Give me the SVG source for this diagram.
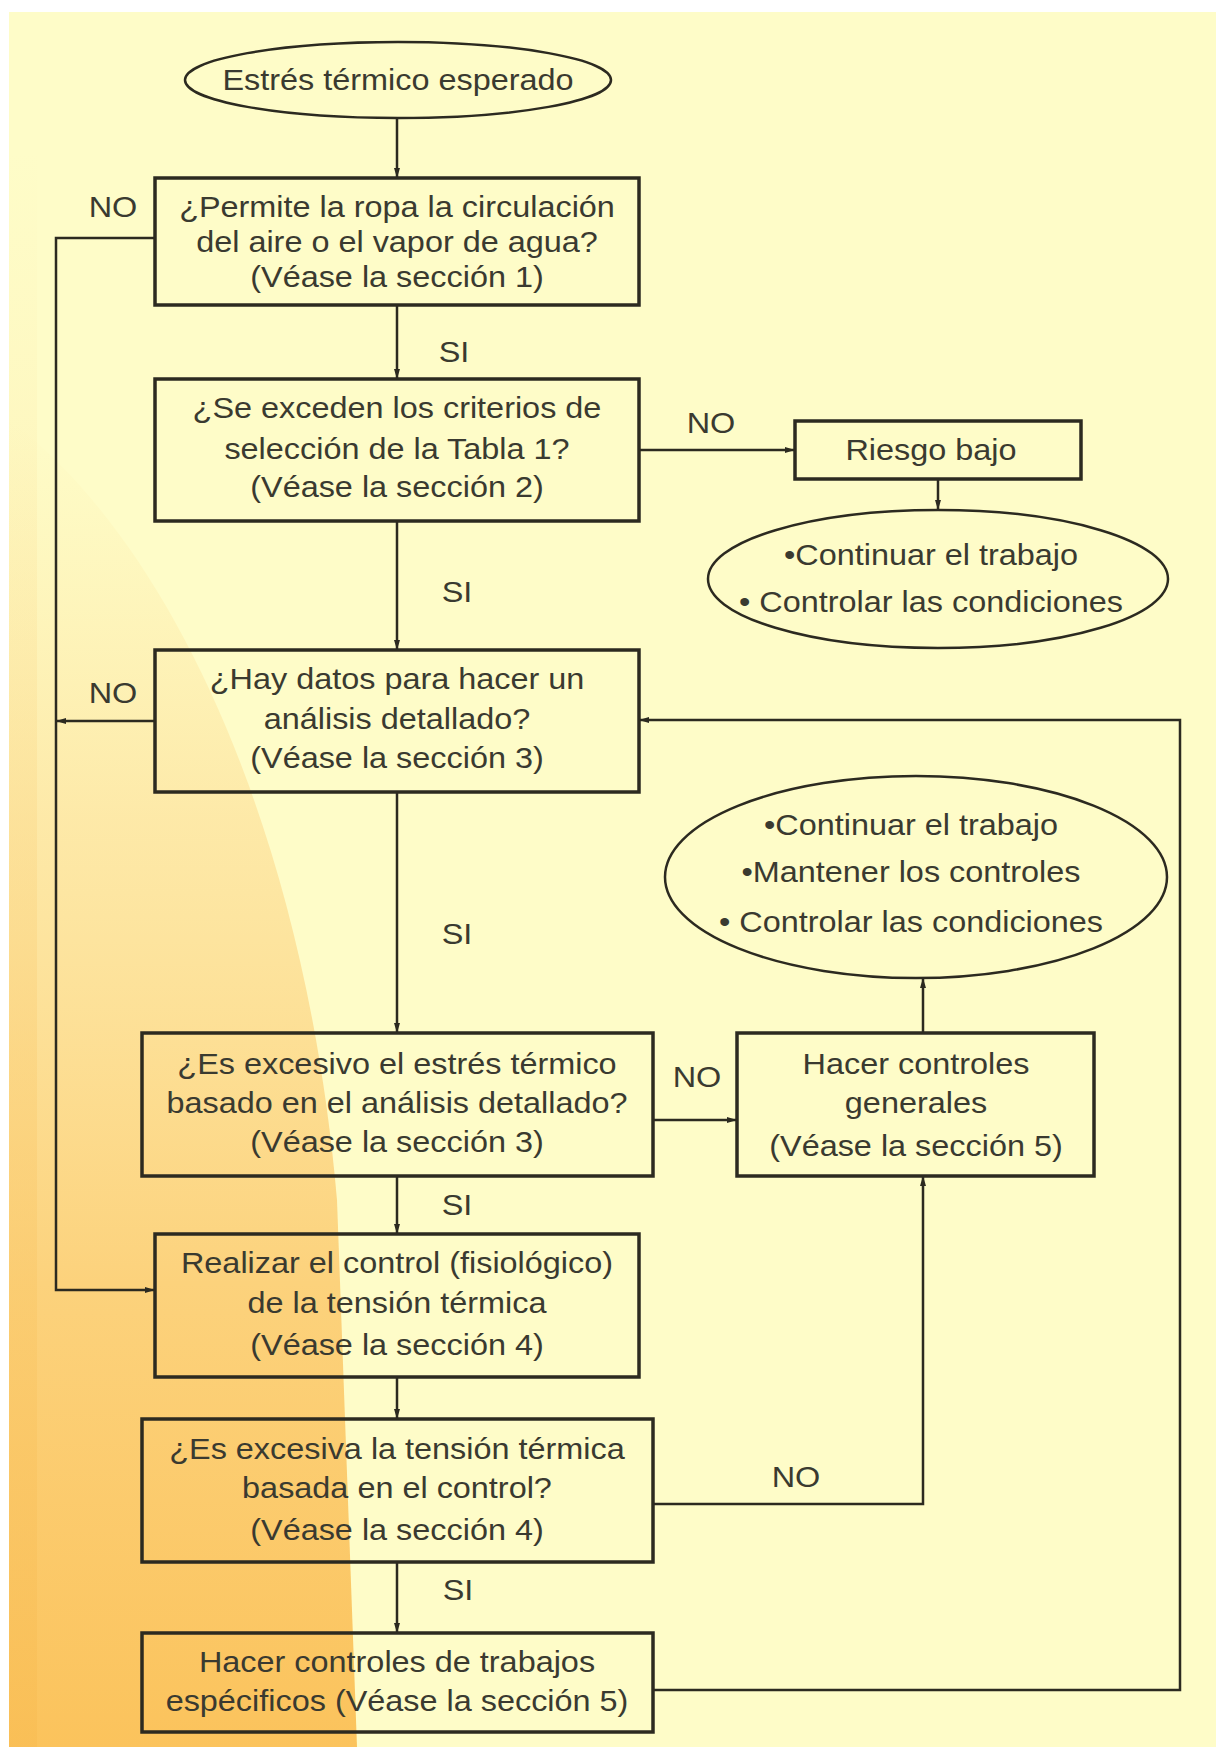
<svg xmlns="http://www.w3.org/2000/svg" width="1216" height="1747" viewBox="0 0 1216 1747">
  <style>
    .t { font-family: "Liberation Sans", Arial, sans-serif; font-size: 30px; fill: #3a3a30; text-anchor: middle; }
    .box { fill: none; stroke: #2c2a20; stroke-width: 3.5; }
    .ell { fill: none; stroke: #2c2a20; stroke-width: 2.5; }
    .c { fill: none; stroke: #2c2a20; stroke-width: 2.5; }
  </style>
  <defs>
    <marker id="ah" markerUnits="userSpaceOnUse" markerWidth="12" markerHeight="10" refX="10" refY="4" orient="auto">
      <path d="M0,1 L10,4 L0,7 Z" fill="#2c2a20"/>
    </marker>
    <linearGradient id="og" gradientUnits="userSpaceOnUse" x1="0" y1="420" x2="0" y2="1747">
      <stop offset="0" stop-color="#FDEBA8" stop-opacity="0"/>
      <stop offset="0.3" stop-color="#FDE19A" stop-opacity="0.7"/>
      <stop offset="0.65" stop-color="#FCD27C" stop-opacity="1"/>
      <stop offset="1" stop-color="#FBC35C" stop-opacity="1"/>
    </linearGradient>
    <linearGradient id="lg" gradientUnits="userSpaceOnUse" x1="0" y1="150" x2="0" y2="1747">
      <stop offset="0" stop-color="#FCE3A0" stop-opacity="0"/>
      <stop offset="1" stop-color="#F9BE55" stop-opacity="0.8"/>
    </linearGradient>
  </defs>

  <!-- background -->
  <rect x="0" y="0" width="1216" height="1747" fill="#FFFFFF"/>
  <rect x="9" y="12" width="1207" height="1735" fill="#FEFCC8"/>
  <path d="M9,420 C170,540 305,830 337,1200 L357,1747 L9,1747 Z" fill="url(#og)"/>
  <rect x="9" y="150" width="28" height="1597" fill="url(#lg)"/>

  <!-- connectors -->
  <g id="connectors">
    <line class="c" x1="397" y1="118" x2="397" y2="178" marker-end="url(#ah)"/>
    <polyline class="c" points="155,238 56,238 56,1290 155,1290" marker-end="url(#ah)"/>
    <line class="c" x1="397" y1="305" x2="397" y2="379" marker-end="url(#ah)"/>
    <line class="c" x1="639" y1="450" x2="795" y2="450" marker-end="url(#ah)"/>
    <line class="c" x1="938" y1="479" x2="938" y2="510" marker-end="url(#ah)"/>
    <line class="c" x1="397" y1="521" x2="397" y2="650" marker-end="url(#ah)"/>
    <line class="c" x1="155" y1="721" x2="56" y2="721" marker-end="url(#ah)"/>
    <line class="c" x1="397" y1="792" x2="397" y2="1033" marker-end="url(#ah)"/>
    <line class="c" x1="653" y1="1120" x2="737" y2="1120" marker-end="url(#ah)"/>
    <line class="c" x1="923" y1="1033" x2="923" y2="978" marker-end="url(#ah)"/>
    <line class="c" x1="397" y1="1176" x2="397" y2="1234" marker-end="url(#ah)"/>
    <line class="c" x1="397" y1="1377" x2="397" y2="1419" marker-end="url(#ah)"/>
    <polyline class="c" points="653,1504 923,1504 923,1176" marker-end="url(#ah)"/>
    <line class="c" x1="397" y1="1562" x2="397" y2="1633" marker-end="url(#ah)"/>
    <polyline class="c" points="653,1690 1180,1690 1180,720 639,720" marker-end="url(#ah)"/>
  </g>

  <!-- connector labels -->
  <g id="labels">
    <text class="t" transform="translate(113,217) scale(1.08,1)">NO</text>
    <text class="t" transform="translate(454,362) scale(1.08,1)">SI</text>
    <text class="t" transform="translate(711,433) scale(1.08,1)">NO</text>
    <text class="t" transform="translate(457,602) scale(1.08,1)">SI</text>
    <text class="t" transform="translate(113,703) scale(1.08,1)">NO</text>
    <text class="t" transform="translate(457,944) scale(1.08,1)">SI</text>
    <text class="t" transform="translate(697,1087) scale(1.08,1)">NO</text>
    <text class="t" transform="translate(457,1215) scale(1.08,1)">SI</text>
    <text class="t" transform="translate(796,1487) scale(1.08,1)">NO</text>
    <text class="t" transform="translate(458,1600) scale(1.08,1)">SI</text>
  </g>

  <g id="start">
    <ellipse class="ell" cx="398" cy="80" rx="213" ry="38"/>
    <text class="t" transform="translate(398,90) scale(1.08,1)">Estrés térmico esperado</text>
  </g>

  <g id="q1">
    <rect class="box" x="155" y="178" width="484" height="127"/>
    <g transform="translate(397,0) scale(1.08,1)">
      <text class="t" x="0" y="217">¿Permite la ropa la circulación</text>
      <text class="t" x="0" y="252">del aire o el vapor de agua?</text>
      <text class="t" x="0" y="287">(Véase la sección 1)</text>
    </g>
  </g>

  <g id="q2">
    <rect class="box" x="155" y="379" width="484" height="142"/>
    <g transform="translate(397,0) scale(1.08,1)">
      <text class="t" x="0" y="418">¿Se exceden los criterios de</text>
      <text class="t" x="0" y="459">selección de la Tabla 1?</text>
      <text class="t" x="0" y="497">(Véase la sección 2)</text>
    </g>
  </g>

  <g id="riesgo">
    <rect class="box" x="795" y="421" width="286" height="58"/>
    <text class="t" transform="translate(931,460) scale(1.08,1)">Riesgo bajo</text>
  </g>

  <g id="end1">
    <ellipse class="ell" cx="938" cy="579" rx="230" ry="69"/>
    <g transform="translate(931,0) scale(1.08,1)">
      <text class="t" x="0" y="565">•Continuar el trabajo</text>
      <text class="t" x="0" y="612">• Controlar las condiciones</text>
    </g>
  </g>

  <g id="q3">
    <rect class="box" x="155" y="650" width="484" height="142"/>
    <g transform="translate(397,0) scale(1.08,1)">
      <text class="t" x="0" y="689">¿Hay datos para hacer un</text>
      <text class="t" x="0" y="729">análisis detallado?</text>
      <text class="t" x="0" y="768">(Véase la sección 3)</text>
    </g>
  </g>

  <g id="end2">
    <ellipse class="ell" cx="916" cy="877" rx="251" ry="101"/>
    <g transform="translate(911,0) scale(1.08,1)">
      <text class="t" x="0" y="835">•Continuar el trabajo</text>
      <text class="t" x="0" y="882">•Mantener los controles</text>
      <text class="t" x="0" y="932">• Controlar las condiciones</text>
    </g>
  </g>

  <g id="q4">
    <rect class="box" x="142" y="1033" width="511" height="143"/>
    <g transform="translate(397,0) scale(1.08,1)">
      <text class="t" x="0" y="1074">¿Es excesivo el estrés térmico</text>
      <text class="t" x="0" y="1113">basado en el análisis detallado?</text>
      <text class="t" x="0" y="1152">(Véase la sección 3)</text>
    </g>
  </g>

  <g id="generales">
    <rect class="box" x="737" y="1033" width="357" height="143"/>
    <g transform="translate(916,0) scale(1.08,1)">
      <text class="t" x="0" y="1074">Hacer controles</text>
      <text class="t" x="0" y="1113">generales</text>
      <text class="t" x="0" y="1156">(Véase la sección 5)</text>
    </g>
  </g>

  <g id="control">
    <rect class="box" x="155" y="1234" width="484" height="143"/>
    <g transform="translate(397,0) scale(1.08,1)">
      <text class="t" x="0" y="1273">Realizar el control (fisiológico)</text>
      <text class="t" x="0" y="1313">de la tensión térmica</text>
      <text class="t" x="0" y="1355">(Véase la sección 4)</text>
    </g>
  </g>

  <g id="q5">
    <rect class="box" x="142" y="1419" width="511" height="143"/>
    <g transform="translate(397,0) scale(1.08,1)">
      <text class="t" x="0" y="1459">¿Es excesiva la tensión térmica</text>
      <text class="t" x="0" y="1498">basada en el control?</text>
      <text class="t" x="0" y="1540">(Véase la sección 4)</text>
    </g>
  </g>

  <g id="especificos">
    <rect class="box" x="142" y="1633" width="511" height="99"/>
    <g transform="translate(397,0) scale(1.08,1)">
      <text class="t" x="0" y="1672">Hacer controles de trabajos</text>
      <text class="t" x="0" y="1711">espécificos (Véase la sección 5)</text>
    </g>
  </g>
</svg>
